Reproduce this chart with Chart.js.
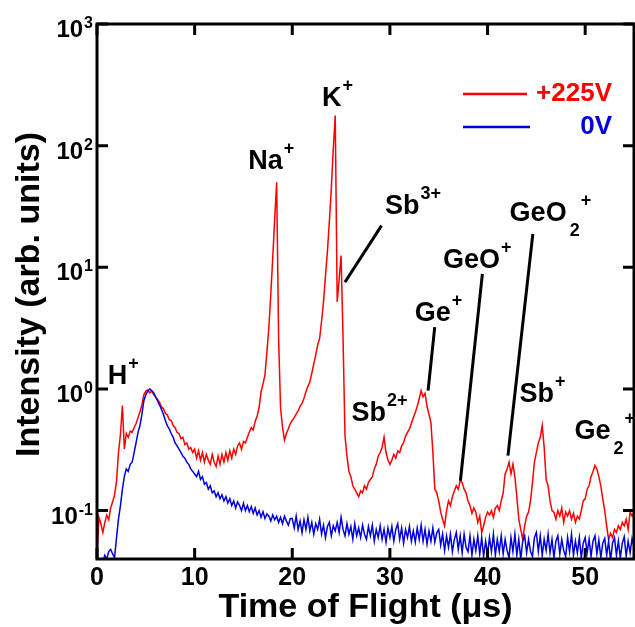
<!DOCTYPE html>
<html>
<head>
<meta charset="utf-8">
<script src="https://cdn.jsdelivr.net/npm/chart.js@4.4.1/dist/chart.umd.min.js"></script>
<style>
  html, body { margin: 0; padding: 0; background: #fff; }
  #tof { display: block; }
</style>
</head>
<body>
<canvas id="tof" width="635" height="627"></canvas>
<script>
// sampling times (us), one reading every 0.2 us
var flightTime = [
  0, 0.2, 0.4, 0.6, 0.8, 1, 1.2, 1.4, 1.6, 1.8, 2, 2.2, 2.4, 2.6, 2.8, 3, 3.2, 3.4, 3.6, 3.8, 4, 4.2, 4.4, 4.6, 4.8,
  5, 5.2, 5.4, 5.6, 5.8, 6, 6.2, 6.4, 6.6, 6.8, 7, 7.2, 7.4, 7.6, 7.8, 8, 8.2, 8.4, 8.6, 8.8, 9, 9.2, 9.4, 9.6, 9.8,
  10, 10.2, 10.4, 10.6, 10.8, 11, 11.2, 11.4, 11.6, 11.8, 12, 12.2, 12.4, 12.6, 12.8, 13, 13.2, 13.4, 13.6, 13.8, 14, 14.2, 14.4, 14.6, 14.8,
  15, 15.2, 15.4, 15.6, 15.8, 16, 16.2, 16.4, 16.6, 16.8, 17, 17.2, 17.4, 17.6, 17.8, 18, 18.2, 18.4, 18.6, 18.8, 19, 19.2, 19.4, 19.6, 19.8,
  20, 20.2, 20.4, 20.6, 20.8, 21, 21.2, 21.4, 21.6, 21.8, 22, 22.2, 22.4, 22.6, 22.8, 23, 23.2, 23.4, 23.6, 23.8, 24, 24.2, 24.4, 24.6, 24.8,
  25, 25.2, 25.4, 25.6, 25.8, 26, 26.2, 26.4, 26.6, 26.8, 27, 27.2, 27.4, 27.6, 27.8, 28, 28.2, 28.4, 28.6, 28.8, 29, 29.2, 29.4, 29.6, 29.8,
  30, 30.2, 30.4, 30.6, 30.8, 31, 31.2, 31.4, 31.6, 31.8, 32, 32.2, 32.4, 32.6, 32.8, 33, 33.2, 33.4, 33.6, 33.8, 34, 34.2, 34.4, 34.6, 34.8,
  35, 35.2, 35.4, 35.6, 35.8, 36, 36.2, 36.4, 36.6, 36.8, 37, 37.2, 37.4, 37.6, 37.8, 38, 38.2, 38.4, 38.6, 38.8, 39, 39.2, 39.4, 39.6, 39.8,
  40, 40.2, 40.4, 40.6, 40.8, 41, 41.2, 41.4, 41.6, 41.8, 42, 42.2, 42.4, 42.6, 42.8, 43, 43.2, 43.4, 43.6, 43.8, 44, 44.2, 44.4, 44.6, 44.8,
  45, 45.2, 45.4, 45.6, 45.8, 46, 46.2, 46.4, 46.6, 46.8, 47, 47.2, 47.4, 47.6, 47.8, 48, 48.2, 48.4, 48.6, 48.8, 49, 49.2, 49.4, 49.6, 49.8,
  50, 50.2, 50.4, 50.6, 50.8, 51, 51.2, 51.4, 51.6, 51.8, 52, 52.2, 52.4, 52.6, 52.8, 53, 53.2, 53.4, 53.6, 53.8, 54, 54.2, 54.4, 54.6, 54.8,
  55
];

// +225V trace
var intensity225V = [
  0.040, 0.088, 0.078, 0.066, 0.080, 0.092, 0.084, 0.105, 0.118, 0.135, 0.175, 0.30, 0.42, 0.73, 0.32, 0.43, 0.40, 0.45, 0.44, 0.48, 0.52, 0.58, 0.65, 0.74, 0.90,
  0.96, 0.98, 0.93, 0.96, 0.90, 0.86, 0.82, 0.78, 0.71, 0.69, 0.63, 0.61, 0.56, 0.55, 0.50, 0.48, 0.44, 0.43, 0.39, 0.40, 0.35, 0.36, 0.32, 0.33, 0.30,
  0.32, 0.27, 0.31, 0.26, 0.30, 0.25, 0.29, 0.26, 0.24, 0.29, 0.25, 0.23, 0.28, 0.24, 0.29, 0.25, 0.30, 0.26, 0.31, 0.27, 0.32, 0.29, 0.34, 0.36, 0.32,
  0.37, 0.36, 0.40, 0.44, 0.48, 0.46, 0.54, 0.60, 0.70, 0.94, 1.10, 1.30, 2.0, 3.2, 6.0, 12.0, 25, 50, 2.6, 0.70, 0.48, 0.38, 0.43, 0.47, 0.52,
  0.55, 0.58, 0.62, 0.66, 0.72, 0.76, 0.84, 0.95, 1.05, 1.14, 1.35, 1.6, 1.9, 2.3, 2.6, 3.6, 5.2, 8.5, 13.5, 24, 45, 94, 177, 5.2, 8.0,
  12.5, 2.6, 0.41, 0.28, 0.21, 0.19, 0.16, 0.15, 0.14, 0.13, 0.145, 0.14, 0.16, 0.15, 0.17, 0.18, 0.19, 0.22, 0.24, 0.28, 0.30, 0.33, 0.40, 0.30, 0.26,
  0.24, 0.26, 0.29, 0.27, 0.31, 0.30, 0.34, 0.36, 0.41, 0.44, 0.47, 0.52, 0.58, 0.64, 0.72, 0.83, 0.97, 0.86, 0.92, 0.72, 0.62, 0.53, 0.30, 0.15, 0.14,
  0.12, 0.097, 0.085, 0.075, 0.10, 0.12, 0.11, 0.13, 0.145, 0.16, 0.15, 0.176, 0.17, 0.15, 0.14, 0.12, 0.11, 0.095, 0.105, 0.097, 0.08, 0.09, 0.066, 0.075, 0.088,
  0.097, 0.092, 0.10, 0.088, 0.105, 0.11, 0.10, 0.12, 0.14, 0.20, 0.22, 0.25, 0.20, 0.24, 0.19, 0.13, 0.085, 0.07, 0.058, 0.075, 0.09, 0.097, 0.12, 0.17, 0.25,
  0.30, 0.36, 0.40, 0.50, 0.33, 0.18, 0.16, 0.12, 0.10, 0.097, 0.085, 0.10, 0.09, 0.105, 0.08, 0.097, 0.09, 0.10, 0.085, 0.095, 0.08, 0.09, 0.085, 0.10, 0.12,
  0.125, 0.15, 0.16, 0.19, 0.21, 0.235, 0.22, 0.19, 0.16, 0.125, 0.10, 0.075, 0.058, 0.065, 0.06, 0.07, 0.066, 0.075, 0.07, 0.08, 0.075, 0.085, 0.07, 0.097, 0.09,
  0.097
];

// 0V trace
var intensity0V = [
  0.030, 0.032, 0.035, 0.038, 0.043, 0.040, 0.046, 0.048, 0.044, 0.041, 0.060, 0.085, 0.11, 0.15, 0.19, 0.22, 0.21, 0.24, 0.25, 0.30, 0.36, 0.44, 0.50, 0.62, 0.80,
  0.90, 0.96, 1.0, 0.97, 0.93, 0.86, 0.80, 0.74, 0.68, 0.62, 0.55, 0.50, 0.47, 0.43, 0.40, 0.36, 0.34, 0.32, 0.30, 0.28, 0.27, 0.25, 0.24, 0.22, 0.21,
  0.20, 0.19, 0.21, 0.18, 0.19, 0.165, 0.17, 0.15, 0.16, 0.14, 0.145, 0.13, 0.14, 0.125, 0.135, 0.12, 0.13, 0.115, 0.125, 0.11, 0.12, 0.105, 0.118, 0.11, 0.10,
  0.115, 0.10, 0.11, 0.098, 0.108, 0.095, 0.105, 0.092, 0.10, 0.088, 0.098, 0.086, 0.094, 0.09, 0.082, 0.092, 0.084, 0.09, 0.08, 0.088, 0.078, 0.09, 0.082, 0.076, 0.086,
  0.086, 0.072, 0.09, 0.07, 0.082, 0.066, 0.084, 0.07, 0.088, 0.068, 0.08, 0.064, 0.078, 0.07, 0.085, 0.064, 0.076, 0.06, 0.074, 0.08, 0.062, 0.075, 0.068, 0.08, 0.066,
  0.088, 0.07, 0.062, 0.078, 0.064, 0.074, 0.058, 0.078, 0.062, 0.072, 0.06, 0.076, 0.064, 0.058, 0.074, 0.062, 0.076, 0.056, 0.07, 0.06, 0.075, 0.058, 0.07, 0.055, 0.072,
  0.06, 0.074, 0.056, 0.07, 0.078, 0.058, 0.072, 0.054, 0.07, 0.06, 0.074, 0.056, 0.068, 0.055, 0.072, 0.058, 0.076, 0.056, 0.07, 0.053, 0.068, 0.056, 0.072, 0.055, 0.066,
  0.07, 0.052, 0.064, 0.047, 0.062, 0.05, 0.064, 0.046, 0.058, 0.066, 0.048, 0.062, 0.045, 0.064, 0.05, 0.046, 0.062, 0.043, 0.058, 0.047, 0.062, 0.044, 0.06, 0.042, 0.056,
  0.044, 0.06, 0.046, 0.064, 0.043, 0.058, 0.046, 0.062, 0.044, 0.058, 0.047, 0.041, 0.06, 0.046, 0.064, 0.043, 0.058, 0.04, 0.056, 0.062, 0.045, 0.058, 0.046, 0.042, 0.06,
  0.066, 0.046, 0.062, 0.043, 0.058, 0.047, 0.064, 0.045, 0.058, 0.041, 0.056, 0.062, 0.044, 0.058, 0.047, 0.042, 0.06, 0.046, 0.064, 0.043, 0.056, 0.045, 0.06, 0.041, 0.054,
  0.06, 0.045, 0.058, 0.042, 0.056, 0.062, 0.044, 0.057, 0.041, 0.054, 0.059, 0.043, 0.056, 0.039, 0.054, 0.06, 0.043, 0.056, 0.041, 0.054, 0.061, 0.042, 0.056, 0.045, 0.059,
  0.05
];

var seriesNames = ['+225V', '0V'];
var seriesColors = ['#ff0000', '#0000dd'];
var xTickValues = [0, 10, 20, 30, 40, 50];
var yTickExponents = [-1, 0, 1, 2, 3];

// peak labels, anchored at the left end of the text baseline (time, intensity)
var peakLabels = [
  { base: 'H',   sub: '',  sup: '+',  t: 1.1,   v: 1.1 },
  { base: 'Na',  sub: '',  sup: '+',  t: 15.5,  v: 64 },
  { base: 'K',   sub: '',  sup: '+',  t: 23.05, v: 212 },
  { base: 'Sb',  sub: '',  sup: '3+', t: 29.5,  v: 27.5 },
  { base: 'GeO', sub: '2', sup: '+',  t: 42.26, v: 24.2 },
  { base: 'GeO', sub: '',  sup: '+',  t: 35.44, v: 9.8 },
  { base: 'Ge',  sub: '',  sup: '+',  t: 32.55, v: 3.6 },
  { base: 'Sb',  sub: '',  sup: '2+', t: 26.07, v: 0.548 },
  { base: 'Sb',  sub: '',  sup: '+',  t: 43.28, v: 0.778 },
  { base: 'Ge',  sub: '2', sup: '+',  t: 48.91, v: 0.388 }
];

// leader lines from label to peak: [time, intensity] pairs
var leaderLines = [
  [[29.14, 22.0], [25.39, 7.54]],
  [[34.59, 3.22], [33.91, 0.968]],
  [[39.47, 8.83], [37.22, 0.176]],
  [[44.64, 18.8], [42.09, 0.283]]
];

var FONT = "'Liberation Sans', Arial, Helvetica, sans-serif";

function toPoints(xs, ys) {
  return xs.map(function (x, i) { return { x: x, y: ys[i] }; });
}

function drawIonLabel(ctx, x, y, lab) {
  ctx.font = 'bold 27px ' + FONT;
  ctx.fillText(lab.base, x, y);
  var cx = x + ctx.measureText(lab.base).width + 1;
  ctx.font = 'bold 18px ' + FONT;
  if (lab.sub) {
    ctx.fillText(lab.sub, cx + 2, y + 15);
    cx += 3 + ctx.measureText(lab.sub).width;
  }
  if (lab.sup) ctx.fillText(lab.sup, cx, y - 15);
}

var decorations = {
  id: 'decorations',
  afterDraw: function (chart) {
    var ctx = chart.ctx, area = chart.chartArea;
    var xs = chart.scales.x, ys = chart.scales.y;
    ctx.save();
    ctx.fillStyle = '#000';
    ctx.strokeStyle = '#000';
    ctx.textBaseline = 'alphabetic';

    // frame
    ctx.lineWidth = 3;
    ctx.strokeRect(area.left, area.top, area.right - area.left, area.bottom - area.top);

    // inward ticks
    ctx.beginPath();
    xTickValues.forEach(function (v) {
      var px = xs.getPixelForValue(v);
      ctx.moveTo(px, area.bottom); ctx.lineTo(px, area.bottom - 11);
      ctx.moveTo(px, area.top); ctx.lineTo(px, area.top + 11);
    });
    yTickExponents.forEach(function (e) {
      var py = ys.getPixelForValue(Math.pow(10, e));
      ctx.moveTo(area.left, py); ctx.lineTo(area.left + 11, py);
      ctx.moveTo(area.right, py); ctx.lineTo(area.right - 11, py);
    });
    ctx.stroke();

    // x tick labels
    ctx.font = 'bold 25px ' + FONT;
    ctx.textAlign = 'center';
    xTickValues.forEach(function (v) {
      ctx.fillText(String(v), xs.getPixelForValue(v), area.bottom + 26);
    });

    // y tick labels 10^n
    ctx.textAlign = 'left';
    yTickExponents.forEach(function (e) {
      var py = ys.getPixelForValue(Math.pow(10, e));
      ctx.font = 'bold 16px ' + FONT;
      var ew = ctx.measureText(String(e)).width;
      var right = area.left - 4;
      ctx.fillText(String(e), right - ew, py + 4);
      ctx.font = 'bold 24px ' + FONT;
      var bw = ctx.measureText('10').width;
      ctx.fillText('10', right - ew - 1 - bw, py + 13);
    });

    // axis titles
    ctx.font = 'bold 34px ' + FONT;
    ctx.textAlign = 'center';
    ctx.fillText('Time of Flight (\u03bcs)', (area.left + area.right) / 2, area.bottom + 58);
    ctx.save();
    ctx.translate(39, (area.top + area.bottom) / 2 + 3);
    ctx.rotate(-Math.PI / 2);
    ctx.fillText('Intensity (arb. units)', 0, 0);
    ctx.restore();

    // leader lines
    ctx.lineWidth = 3;
    leaderLines.forEach(function (seg) {
      ctx.beginPath();
      ctx.moveTo(xs.getPixelForValue(seg[0][0]), ys.getPixelForValue(seg[0][1]));
      ctx.lineTo(xs.getPixelForValue(seg[1][0]), ys.getPixelForValue(seg[1][1]));
      ctx.stroke();
    });

    // ion labels
    ctx.textAlign = 'left';
    peakLabels.forEach(function (lab) {
      drawIonLabel(ctx, xs.getPixelForValue(lab.t), ys.getPixelForValue(lab.v), lab);
    });

    // legend (top right, inside the frame)
    ctx.font = 'bold 26px ' + FONT;
    ctx.textAlign = 'right';
    ctx.lineWidth = 2.5;
    [0, 1].forEach(function (k) {
      var rowY = area.top + 70 + k * 33;
      ctx.strokeStyle = seriesColors[k];
      ctx.beginPath();
      ctx.moveTo(area.right - 171, rowY);
      ctx.lineTo(area.right - 107 + k * 3, rowY);
      ctx.stroke();
      ctx.fillStyle = seriesColors[k];
      ctx.fillText(seriesNames[k], area.right - 22, rowY + 6.5);
    });
    ctx.restore();
  }
};

new Chart(document.getElementById('tof'), {
  type: 'line',
  data: {
    datasets: [
      {
        label: seriesNames[1],
        data: toPoints(flightTime, intensity0V),
        borderColor: seriesColors[1],
        borderWidth: 1.5,
        pointRadius: 0,
        tension: 0
      },
      {
        label: seriesNames[0],
        data: toPoints(flightTime, intensity225V),
        borderColor: seriesColors[0],
        borderWidth: 1.5,
        pointRadius: 0,
        tension: 0
      }
    ]
  },
  options: {
    responsive: false,
    animation: false,
    devicePixelRatio: 1,
    events: [],
    layout: { padding: { left: 97, right: 1, top: 24, bottom: 68 } },
    plugins: { legend: { display: false }, tooltip: { enabled: false } },
    scales: {
      x: { type: 'linear', min: 0, max: 55, display: false },
      y: { type: 'logarithmic', min: 0.04, max: 1000, display: false }
    }
  },
  plugins: [decorations]
});
</script>
</body>
</html>
